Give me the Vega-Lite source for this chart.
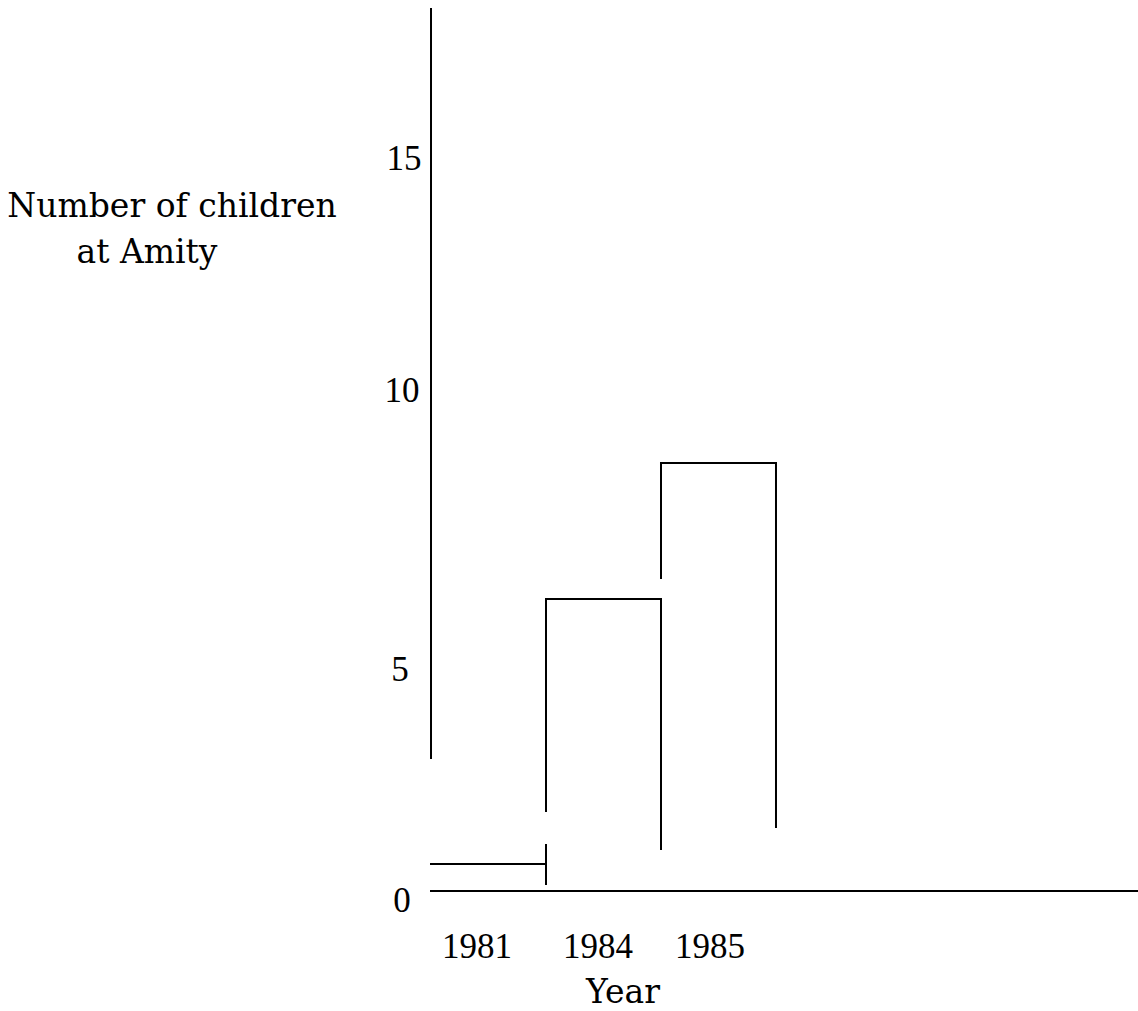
{
  "$schema": "https://vega.github.io/schema/vega-lite/v6.json",
  "width": 1138,
  "height": 1011,
  "autosize": "none",
  "padding": 0,
  "background": "white",
  "config": {"view": {"stroke": null}},
  "datasets": {
    "segments": [
      {"part": "y axis", "x": 0, "x2": 0, "y": 17.64, "y2": 2.66},
      {"part": "x axis", "x": 0, "x2": 6.14, "y": 0, "y2": 0},
      {"part": "1981 top", "x": 0, "x2": 1.0, "y": 0.54, "y2": 0.54},
      {"part": "1981 right", "x": 1.0, "x2": 1.0, "y": 0.92, "y2": 0.14},
      {"part": "1984 left", "x": 1.0, "x2": 1.0, "y": 1.6, "y2": 5.84},
      {"part": "1984 top", "x": 1.0, "x2": 2.0, "y": 5.84, "y2": 5.84},
      {"part": "1984 right", "x": 2.0, "x2": 2.0, "y": 5.84, "y2": 0.84},
      {"part": "1985 left", "x": 2.0, "x2": 2.0, "y": 6.26, "y2": 8.56},
      {"part": "1985 top", "x": 2.0, "x2": 3.0, "y": 8.56, "y2": 8.56},
      {"part": "1985 right", "x": 3.0, "x2": 3.0, "y": 8.56, "y2": 1.28}
    ],
    "numbers": [
      {"label": "15", "x": -0.235, "y": 14.42},
      {"label": "10", "x": -0.252, "y": 9.78},
      {"label": "5", "x": -0.27, "y": 4.2},
      {"label": "0", "x": -0.252, "y": -0.42},
      {"label": "1981", "x": 0.4, "y": -1.34},
      {"label": "1984", "x": 1.452, "y": -1.34},
      {"label": "1985", "x": 2.426, "y": -1.34}
    ],
    "words": [
      {"label": "Number of children", "x": -2.252, "y": 13.48},
      {"label": "at Amity", "x": -2.47, "y": 12.56},
      {"label": "Year", "x": 1.67, "y": -2.24}
    ]
  },
  "layer": [
    {
      "data": {"name": "segments"},
      "mark": {"type": "rule", "color": "black", "strokeWidth": 2, "strokeCap": "square"},
      "encoding": {
        "x": {"field": "x", "type": "quantitative", "axis": null, "scale": {"domain": [-3.748, 6.148], "nice": false, "zero": false}},
        "x2": {"field": "x2"},
        "y": {"field": "y", "type": "quantitative", "axis": null, "scale": {"domain": [-2.4, 17.82], "nice": false, "zero": false}},
        "y2": {"field": "y2"}
      }
    },
    {
      "data": {"name": "numbers"},
      "mark": {"type": "text", "font": "Liberation Serif", "fontSize": 35, "align": "center", "baseline": "alphabetic", "color": "black"},
      "encoding": {
        "x": {"field": "x", "type": "quantitative"},
        "y": {"field": "y", "type": "quantitative"},
        "text": {"field": "label"}
      }
    },
    {
      "data": {"name": "words"},
      "mark": {"type": "text", "font": "DejaVu Serif", "fontSize": 33, "align": "center", "baseline": "alphabetic", "color": "black"},
      "encoding": {
        "x": {"field": "x", "type": "quantitative"},
        "y": {"field": "y", "type": "quantitative"},
        "text": {"field": "label"}
      }
    }
  ]
}
